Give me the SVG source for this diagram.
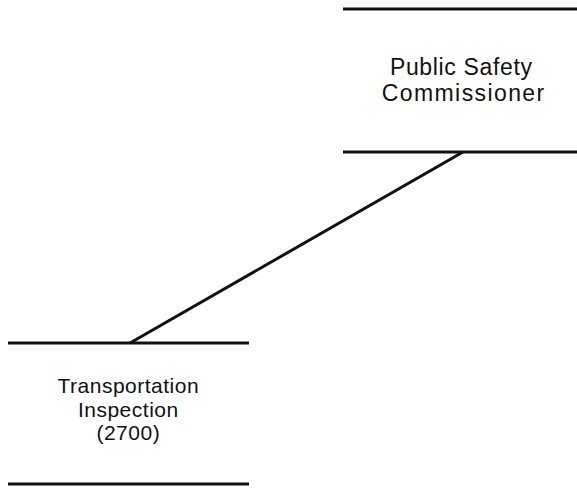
<svg xmlns="http://www.w3.org/2000/svg" width="577" height="491" viewBox="0 0 577 491">
<style>
.bar{stroke:#111;stroke-width:3;fill:none}
.lbl{font-family:"Liberation Sans",Arial,sans-serif;fill:#111;text-anchor:middle}
.top{font-size:23px}
.bot{font-size:21px;letter-spacing:0.5px}
.edge{stroke:#111;stroke-width:3;fill:none}
</style>
<rect width="577" height="491" fill="#fff"/>
<g id="connectors">
<line class="edge" x1="463" y1="152" x2="130" y2="343"/>
</g>
<g id="node-commissioner">
<line class="bar" x1="343" y1="9" x2="577" y2="9"/>
<line class="bar" x1="343" y1="152" x2="577" y2="152"/>
<text class="lbl top" x="461.3" y="75" style="letter-spacing:0.65px">Public Safety</text>
<text class="lbl top" x="463.7" y="101" style="letter-spacing:1.4px">Commissioner</text>
</g>
<g id="node-transportation">
<line class="bar" x1="8" y1="343" x2="249" y2="343"/>
<line class="bar" x1="8" y1="484" x2="249" y2="484"/>
<text class="lbl bot" x="128.3" y="393">Transportation</text>
<text class="lbl bot" x="128.3" y="417">Inspection</text>
<text class="lbl bot" x="128.3" y="440">(2700)</text>
</g>
</svg>
